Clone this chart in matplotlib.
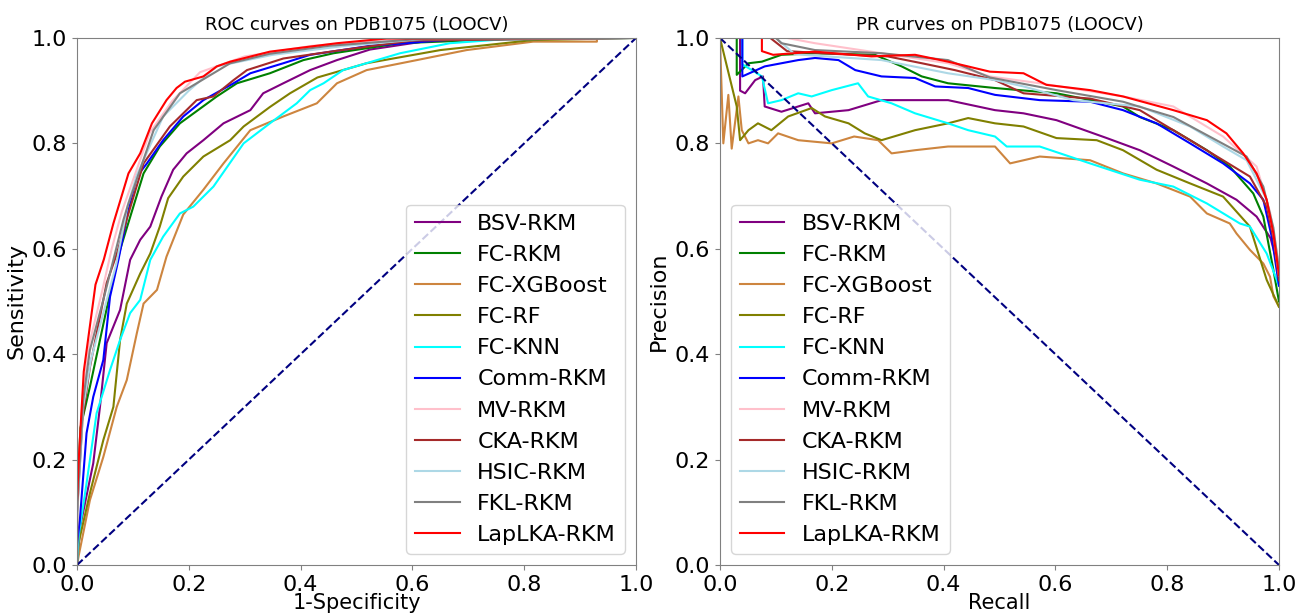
import matplotlib
matplotlib.use("Agg")
import matplotlib.pyplot as plt

# model names / colours (legend order)
names = ["BSV-RKM", "FC-RKM", "FC-XGBoost", "FC-RF", "FC-KNN", "Comm-RKM",
         "MV-RKM", "CKA-RKM", "HSIC-RKM", "FKL-RKM", "LapLKA-RKM"]
colors = ["purple", "green", "peru", "olive", "cyan", "blue",
          "pink", "brown", "lightblue", "gray", "red"]

# ---- ROC curves (fpr, tpr) ----
bsv_fpr = [0, 0.006, 0.029, 0.041, 0.053, 0.077, 0.095, 0.113, 0.131, 0.151, 0.172, 0.196, 0.226, 0.262, 0.31, 0.333, 0.369, 0.417, 0.465, 0.524, 0.637, 0.75, 1]
bsv_tpr = [0, 0.075, 0.193, 0.30, 0.421, 0.484, 0.579, 0.617, 0.642, 0.699, 0.75, 0.781, 0.806, 0.838, 0.863, 0.895, 0.914, 0.939, 0.958, 0.978, 0.996, 1, 1]
fcrkm_fpr = [0, 0.0, 0.006, 0.023, 0.041, 0.059, 0.077, 0.119, 0.148, 0.184, 0.25, 0.286, 0.345, 0.405, 0.459, 0.578, 0.816, 1]
fcrkm_tpr = [0, 0.1, 0.26, 0.338, 0.427, 0.516, 0.598, 0.743, 0.794, 0.838, 0.889, 0.914, 0.933, 0.958, 0.971, 0.99, 1, 1]
xgb_fpr = [0, 0.003, 0.023, 0.047, 0.071, 0.089, 0.107, 0.119, 0.143, 0.16, 0.19, 0.226, 0.262, 0.31, 0.369, 0.429, 0.465, 0.518, 0.608, 0.697, 0.816, 0.93, 0.93, 1]
xgb_tpr = [0, 0.018, 0.123, 0.205, 0.30, 0.351, 0.44, 0.496, 0.522, 0.585, 0.665, 0.712, 0.762, 0.825, 0.851, 0.876, 0.914, 0.939, 0.958, 0.977, 0.993, 0.993, 1, 1]
rf_fpr = [0, 0.003, 0.023, 0.047, 0.065, 0.077, 0.089, 0.113, 0.131, 0.148, 0.163, 0.19, 0.226, 0.274, 0.298, 0.345, 0.381, 0.43, 0.518, 0.65, 0.816, 1]
rf_tpr = [0, 0.043, 0.136, 0.237, 0.30, 0.427, 0.496, 0.553, 0.591, 0.642, 0.696, 0.737, 0.775, 0.806, 0.832, 0.869, 0.895, 0.925, 0.952, 0.977, 0.996, 1]
knn_fpr = [0, 0.003, 0.017, 0.035, 0.059, 0.077, 0.095, 0.113, 0.131, 0.154, 0.184, 0.208, 0.244, 0.298, 0.345, 0.393, 0.417, 0.441, 0.476, 0.578, 0.667, 0.757, 1]
knn_tpr = [0, 0.056, 0.155, 0.288, 0.37, 0.427, 0.478, 0.503, 0.579, 0.623, 0.667, 0.68, 0.718, 0.80, 0.838, 0.876, 0.901, 0.914, 0.939, 0.971, 0.99, 0.997, 1]
comm_fpr = [0, 0.0, 0.005, 0.017, 0.029, 0.047, 0.059, 0.074, 0.092, 0.107, 0.125, 0.154, 0.19, 0.226, 0.28, 0.31, 0.369, 0.417, 0.524, 0.697, 1]
comm_tpr = [0, 0.04, 0.085, 0.25, 0.319, 0.389, 0.509, 0.579, 0.674, 0.737, 0.762, 0.806, 0.851, 0.882, 0.914, 0.933, 0.952, 0.968, 0.985, 0.999, 1]
mv_fpr = [0, 0, 0.01, 0.022, 0.045, 0.062, 0.08, 0.1, 0.13, 0.17, 0.22, 0.3, 0.42, 0.58, 1]
mv_tpr = [0, 0.11, 0.32, 0.42, 0.52, 0.6, 0.67, 0.73, 0.82, 0.88, 0.935, 0.965, 0.985, 0.998, 1]
cka_fpr = [0, 0, 0.01, 0.023, 0.053, 0.071, 0.09, 0.119, 0.166, 0.214, 0.244, 0.28, 0.304, 0.369, 0.46, 0.6, 1]
cka_tpr = [0, 0.1, 0.28, 0.375, 0.535, 0.59, 0.66, 0.762, 0.832, 0.882, 0.889, 0.92, 0.939, 0.961, 0.975, 0.995, 1]
hsic_fpr = [0, 0, 0.011, 0.025, 0.05, 0.07, 0.09, 0.107, 0.154, 0.2, 0.25, 0.35, 0.48, 0.62, 1]
hsic_tpr = [0, 0.09, 0.3, 0.39, 0.49, 0.57, 0.68, 0.74, 0.851, 0.9, 0.946, 0.968, 0.985, 0.998, 1]
fkl_fpr = [0, 0, 0.011, 0.023, 0.047, 0.065, 0.083, 0.092, 0.137, 0.184, 0.274, 0.345, 0.45, 0.6, 1]
fkl_tpr = [0, 0.1, 0.313, 0.408, 0.503, 0.579, 0.655, 0.686, 0.825, 0.895, 0.952, 0.97, 0.985, 0.997, 1]
lap_fpr = [0, 0, 0.003, 0.012, 0.033, 0.048, 0.065, 0.092, 0.113, 0.134, 0.16, 0.178, 0.193, 0.226, 0.25, 0.274, 0.345, 0.465, 0.554, 1]
lap_tpr = [0, 0.12, 0.2, 0.367, 0.532, 0.58, 0.648, 0.743, 0.781, 0.838, 0.882, 0.905, 0.917, 0.927, 0.946, 0.955, 0.974, 0.99, 0.999, 1]

# ---- PR curves (recall, precision) ----
bsv_rec = [0, 0.036, 0.036, 0.045, 0.063, 0.077, 0.08, 0.11, 0.158, 0.17, 0.23, 0.289, 0.349, 0.408, 0.492, 0.543, 0.602, 0.692, 0.751, 0.811, 0.871, 0.924, 0.96, 0.985, 1]
bsv_prec = [1, 1, 0.9, 0.895, 0.92, 0.927, 0.87, 0.86, 0.876, 0.857, 0.863, 0.882, 0.882, 0.882, 0.863, 0.857, 0.844, 0.81, 0.787, 0.756, 0.724, 0.693, 0.661, 0.62, 0.56]
fcrkm_rec = [0, 0.03, 0.03, 0.051, 0.075, 0.11, 0.17, 0.277, 0.325, 0.361, 0.408, 0.492, 0.602, 0.721, 0.751, 0.811, 0.871, 0.912, 0.954, 0.972, 0.99, 1]
fcrkm_prec = [1, 1, 0.93, 0.952, 0.955, 0.968, 0.971, 0.968, 0.946, 0.927, 0.914, 0.905, 0.895, 0.87, 0.85, 0.825, 0.787, 0.756, 0.705, 0.661, 0.56, 0.50]
xgb_rec = [0, 0.006, 0.015, 0.021, 0.033, 0.039, 0.051, 0.068, 0.086, 0.104, 0.14, 0.2, 0.24, 0.283, 0.307, 0.349, 0.408, 0.492, 0.519, 0.572, 0.662, 0.721, 0.781, 0.841, 0.871, 0.912, 0.924, 0.948, 0.972, 0.984, 0.99, 1]
xgb_prec = [1, 0.80, 0.892, 0.79, 0.889, 0.825, 0.80, 0.806, 0.80, 0.819, 0.806, 0.80, 0.813, 0.806, 0.781, 0.787, 0.794, 0.794, 0.762, 0.775, 0.768, 0.743, 0.724, 0.699, 0.667, 0.648, 0.629, 0.598, 0.572, 0.547, 0.51, 0.49]
rf_rec = [0, 0.03, 0.036, 0.051, 0.068, 0.092, 0.122, 0.164, 0.188, 0.23, 0.259, 0.289, 0.349, 0.408, 0.444, 0.492, 0.543, 0.602, 0.674, 0.721, 0.781, 0.841, 0.9, 0.948, 0.978, 1]
rf_prec = [1, 0.87, 0.806, 0.825, 0.838, 0.825, 0.851, 0.867, 0.851, 0.838, 0.819, 0.806, 0.825, 0.838, 0.848, 0.838, 0.832, 0.81, 0.806, 0.787, 0.75, 0.724, 0.699, 0.642, 0.541, 0.49]
knn_rec = [0, 0.04, 0.04, 0.057, 0.075, 0.086, 0.11, 0.14, 0.164, 0.2, 0.247, 0.265, 0.307, 0.349, 0.408, 0.444, 0.492, 0.513, 0.572, 0.662, 0.751, 0.811, 0.871, 0.93, 0.948, 0.978, 0.996, 1]
knn_prec = [1, 1, 0.95, 0.939, 0.927, 0.876, 0.882, 0.895, 0.889, 0.901, 0.914, 0.889, 0.876, 0.857, 0.838, 0.825, 0.813, 0.794, 0.794, 0.762, 0.731, 0.718, 0.686, 0.648, 0.642, 0.591, 0.541, 0.53]
comm_rec = [0, 0.04, 0.04, 0.08, 0.14, 0.17, 0.212, 0.242, 0.289, 0.349, 0.385, 0.444, 0.492, 0.572, 0.662, 0.721, 0.781, 0.841, 0.9, 0.948, 0.972, 0.987, 1]
comm_prec = [1, 1, 0.927, 0.946, 0.958, 0.962, 0.958, 0.939, 0.927, 0.924, 0.908, 0.905, 0.892, 0.882, 0.879, 0.863, 0.838, 0.80, 0.762, 0.724, 0.693, 0.623, 0.53]
mv_rec = [0, 0.12, 0.17, 0.289, 0.408, 0.483, 0.572, 0.721, 0.811, 0.9, 0.96, 0.984, 1]
mv_prec = [1, 1, 0.99, 0.971, 0.952, 0.927, 0.914, 0.889, 0.87, 0.813, 0.756, 0.67, 0.57]
cka_rec = [0, 0.09, 0.12, 0.2, 0.3, 0.361, 0.42, 0.492, 0.543, 0.662, 0.751, 0.841, 0.9, 0.948, 0.978, 0.99, 1]
cka_prec = [1, 1, 0.975, 0.97, 0.965, 0.952, 0.939, 0.92, 0.895, 0.885, 0.863, 0.806, 0.768, 0.737, 0.68, 0.62, 0.54]
hsic_rec = [0, 0.1, 0.134, 0.289, 0.408, 0.492, 0.543, 0.632, 0.751, 0.841, 0.9, 0.942, 0.978, 0.99, 1]
hsic_prec = [1, 1, 0.969, 0.958, 0.933, 0.92, 0.908, 0.882, 0.87, 0.832, 0.794, 0.768, 0.693, 0.63, 0.55]
fkl_rec = [0, 0.1, 0.11, 0.17, 0.289, 0.408, 0.483, 0.602, 0.721, 0.811, 0.888, 0.942, 0.972, 0.99, 1]
fkl_prec = [1, 1, 0.99, 0.977, 0.971, 0.958, 0.925, 0.901, 0.879, 0.85, 0.806, 0.775, 0.718, 0.64, 0.56]
lap_rec = [0, 0.075, 0.075, 0.095, 0.17, 0.271, 0.349, 0.408, 0.483, 0.543, 0.584, 0.662, 0.721, 0.811, 0.871, 0.906, 0.936, 0.96, 0.978, 0.99, 1]
lap_prec = [1, 1, 0.975, 0.968, 0.974, 0.965, 0.968, 0.955, 0.936, 0.933, 0.911, 0.901, 0.889, 0.863, 0.844, 0.819, 0.781, 0.743, 0.693, 0.629, 0.55]

roc = [(bsv_fpr, bsv_tpr), (fcrkm_fpr, fcrkm_tpr), (xgb_fpr, xgb_tpr), (rf_fpr, rf_tpr),
       (knn_fpr, knn_tpr), (comm_fpr, comm_tpr), (mv_fpr, mv_tpr), (cka_fpr, cka_tpr),
       (hsic_fpr, hsic_tpr), (fkl_fpr, fkl_tpr), (lap_fpr, lap_tpr)]
pr = [(bsv_rec, bsv_prec), (fcrkm_rec, fcrkm_prec), (xgb_rec, xgb_prec), (rf_rec, rf_prec),
      (knn_rec, knn_prec), (comm_rec, comm_prec), (mv_rec, mv_prec), (cka_rec, cka_prec),
      (hsic_rec, hsic_prec), (fkl_rec, fkl_prec), (lap_rec, lap_prec)]

fig = plt.figure(figsize=(12.97, 6.15), dpi=100)
ax1 = fig.add_axes([0.0594, 0.0813, 0.431, 0.857])
ax2 = fig.add_axes([0.5551, 0.0813, 0.431, 0.857])

for i in range(len(names)):
    ax1.plot(roc[i][0], roc[i][1], color=colors[i], lw=1.5, label=names[i])
    ax2.plot(pr[i][0], pr[i][1], color=colors[i], lw=1.5, label=names[i])

ax1.plot([0, 1], [0, 1], color="navy", lw=1.5, linestyle="--")
ax2.plot([0, 1], [1, 0], color="navy", lw=1.5, linestyle="--")

def style(ax, title, xl, yl, loc):
    ax.set_xlim(0, 1)
    ax.set_ylim(0, 1)
    ax.set_title(title, fontsize=13)
    # xlabel pulled up a bit so it stays inside the figure
    ax.set_xlabel(xl, fontsize=15, labelpad=-1)
    ax.set_ylabel(yl, fontsize=16)
    ax.tick_params(labelsize=16, color="gray")
    for s in ax.spines.values():
        s.set_color("gray")
    ax.legend(loc=loc, fontsize=16)

style(ax1, "ROC curves on PDB1075 (LOOCV)", "1-Specificity", "Sensitivity", "lower right")
style(ax2, "PR curves on PDB1075 (LOOCV)", "Recall", "Precision", "lower left")

fig.savefig("out.png", dpi=100)
